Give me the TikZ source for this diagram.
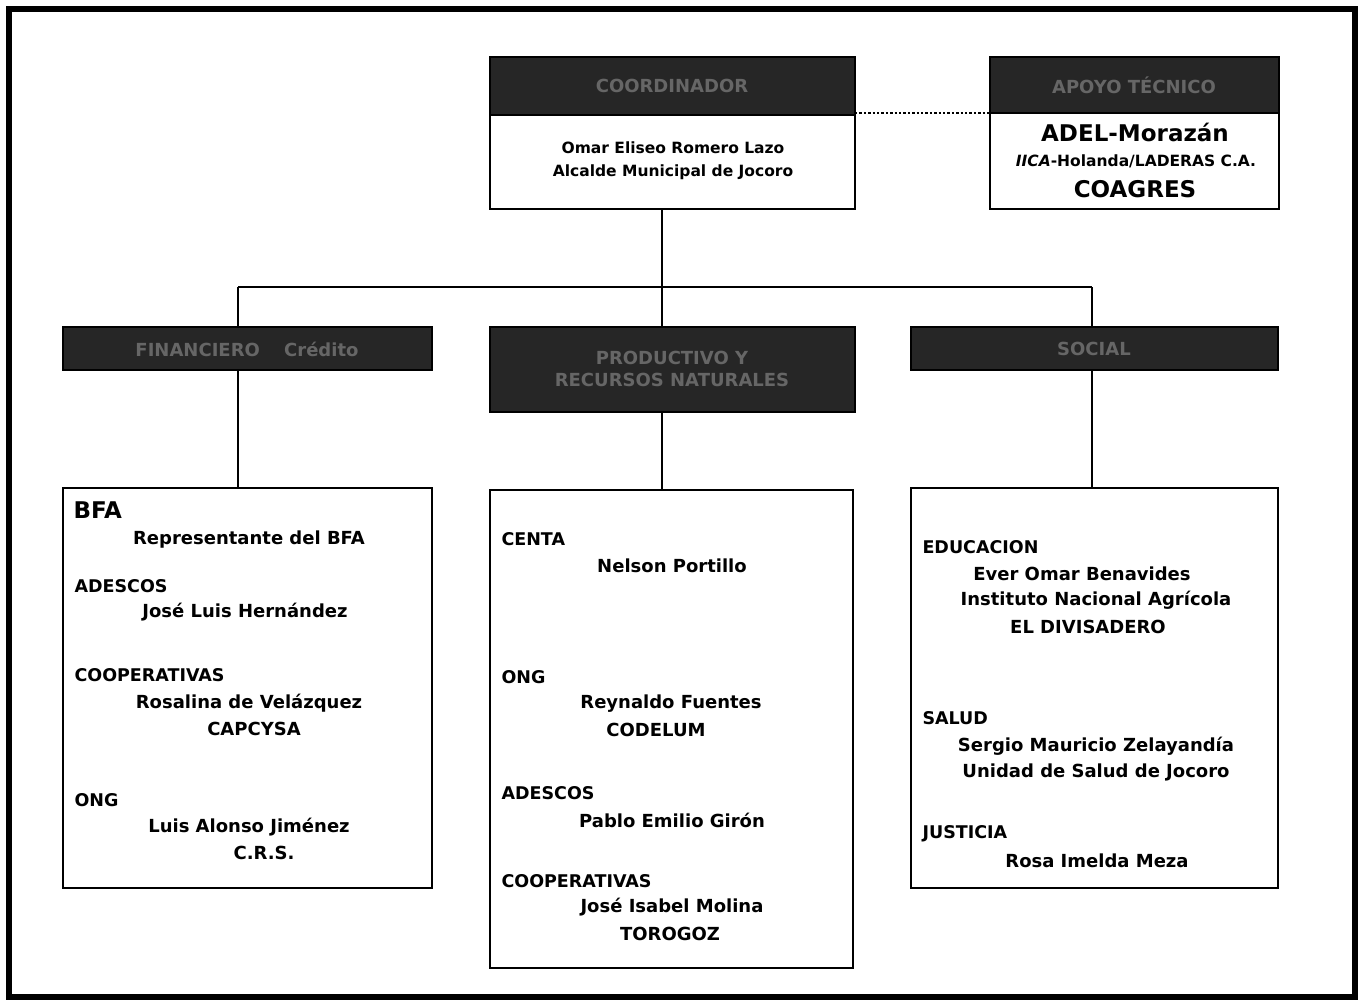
\documentclass[tikz,border=0pt]{standalone}
\usepackage{fontspec}
\setmainfont{DejaVu Sans}
\begin{document}
\begin{tikzpicture}[x=1pt,y=-1pt,
  box/.style={draw=black,line width=2.2pt,fill=white},
  hdr/.style={draw=black,line width=2.2pt,fill=black!85},
  htext/.style={text=black!60,font=\bfseries\fontsize{18}{22}\selectfont,align=center},
  ttl/.style={anchor=west,font=\bfseries\fontsize{17.5}{20}\selectfont},
  nm/.style={font=\bfseries\fontsize{18}{20}\selectfont},
  sm/.style={font=\bfseries\fontsize{15.5}{18}\selectfont},
  big/.style={font=\bfseries\fontsize{23}{26}\selectfont},
  conn/.style={line width=2pt}]
\useasboundingbox (0,0) rectangle (1363,1003);
\draw[line width=6pt] (9,9) rectangle (1355,997);

% top coordinator
\draw[box] (490,57) rectangle (855,209);
\draw[hdr] (490,57) rectangle (855,115);
\node[htext] (coordh) at (672,86) {COORDINADOR};
\node[sm] (omar) at (673,148) {Omar Eliseo Romero Lazo};
\node[sm] (alc) at (673,172) {Alcalde Municipal de Jocoro};
\coordinate (coordR) at (855,113);
\coordinate (coordB) at (662,209);

% top right
\draw[box] (990,57) rectangle (1279,209);
\draw[hdr] (990,57) rectangle (1279,113);
\node[htext] (apoyoh) at (1134,85) {APOYO TÉCNICO};
\node[big] (adel) at (1135,132) {ADEL-Morazán};
\node[sm] (iica) at (1136,161) {\textit{IICA}-Holanda/LADERAS C.A.};
\node[big] (coag) at (1135,189) {COAGRES};
\coordinate (apoyoL) at (990,113);
\draw[line width=2.4pt,dotted] (coordR) -- (apoyoL);

% tree connectors
\coordinate (j0) at (662,287);
\coordinate (jl) at (238,287);
\coordinate (jr) at (1092,287);
\draw[conn] (coordB) -- (j0);
\draw[conn] (jl) -- (jr);

% left column
\draw[hdr] (63,327) rectangle (432,370);
\node[htext] (lh) at (247,349) {FINANCIERO \quad Crédito};
\draw[box] (63,488) rectangle (432,888);
\draw[conn] (jl) -- (238,327);
\draw[conn] (238,370) -- (238,488);
\node[anchor=west,big] (bfa) at (70,510) {BFA};
\node[nm] (l1) at (249,540) {Representante del BFA};
\node[ttl] (l2) at (71,586) {ADESCOS};
\node[nm] (l3) at (245,612) {José Luis Hernández};
\node[ttl] (l4) at (71,675) {COOPERATIVAS};
\node[nm] (l5) at (249,703) {Rosalina de Velázquez};
\node[nm] (l6) at (254,729) {CAPCYSA};
\node[ttl] (l7) at (71,800) {ONG};
\node[nm] (l8) at (249,827) {Luis Alonso Jiménez};
\node[nm] (l9) at (264,853) {C.R.S.};

% middle column
\draw[hdr] (490,327) rectangle (855,412);
\node[htext] (mh) at (672,369) {PRODUCTIVO Y\\RECURSOS NATURALES};
\draw[box] (490,490) rectangle (853,968);
\draw[conn] (662,287) -- (662,327);
\draw[conn] (662,412) -- (662,490);
\node[ttl] (m1) at (498,539) {CENTA};
\node[nm] (m2) at (672,566) {Nelson Portillo};
\node[ttl] (m3) at (498,677) {ONG};
\node[nm] (m4) at (671,704) {Reynaldo Fuentes};
\node[nm] (m5) at (656,730) {CODELUM};
\node[ttl] (m6) at (498,793) {ADESCOS};
\node[nm] (m7) at (672,820) {Pablo Emilio Girón};
\node[ttl] (m8) at (498,881) {COOPERATIVAS};
\node[nm] (m9) at (672,907) {José Isabel Molina};
\node[nm] (m10) at (670,934) {TOROGOZ};

% right column
\draw[hdr] (911,327) rectangle (1278,370);
\node[htext] (rh) at (1094,349) {SOCIAL};
\draw[box] (911,488) rectangle (1278,888);
\draw[conn] (jr) -- (1092,327);
\draw[conn] (1092,370) -- (1092,488);
\node[ttl] (r1) at (919,547) {EDUCACION};
\node[nm] (r2) at (1082,574) {Ever Omar Benavides};
\node[nm] (r3) at (1096,600) {Instituto Nacional Agrícola};
\node[nm] (r4) at (1088,627) {EL DIVISADERO};
\node[ttl] (r5) at (919,718) {SALUD};
\node[nm] (r6) at (1096,746) {Sergio Mauricio Zelayandía};
\node[nm] (r7) at (1096,772) {Unidad de Salud de Jocoro};
\node[ttl] (r8) at (919,834) {JUSTICIA};
\node[nm] (r9) at (1097,861) {Rosa Imelda Meza};
\end{tikzpicture}
\end{document}
